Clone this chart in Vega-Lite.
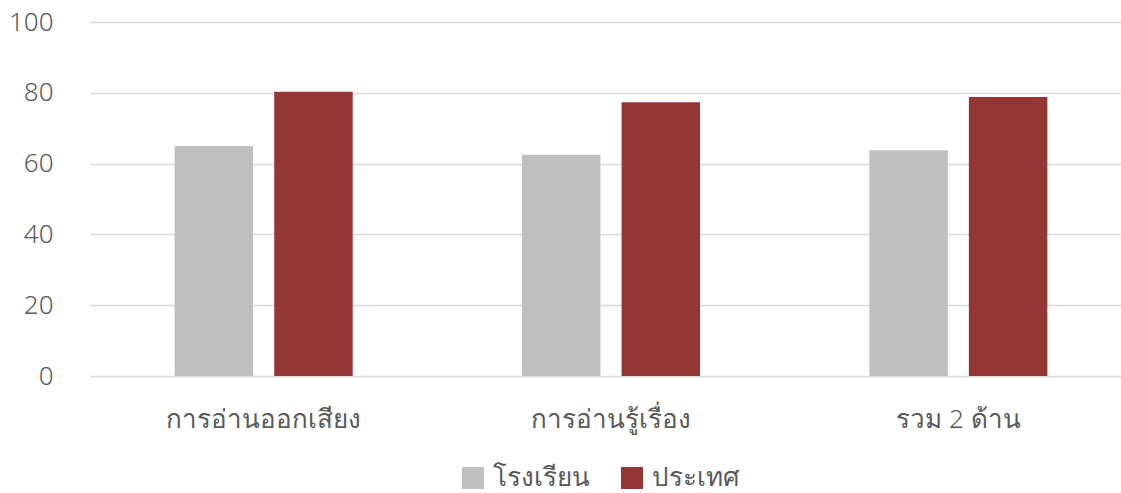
{
  "$schema": "https://vega.github.io/schema/vega-lite/v6.json",
  "autosize": {"type": "none"},
  "width": 1031,
  "height": 354,
  "padding": {"left": 90, "top": 22, "right": 0, "bottom": 117},
  "background": "white",
  "config": {
    "view": {"stroke": null},
    "font": "Noto Sans",
    "axis": {"labelColor": "#595959", "labelFont": "Noto Sans", "labelFontSize": 26, "labelFontWeight": 300, "labelLimit": 400}
  },
  "data": {
    "values": [
      {"category": "การอ่านออกเสียง", "series": "โรงเรียน", "value": 65.0},
      {"category": "การอ่านออกเสียง", "series": "ประเทศ", "value": 80.3},
      {"category": "การอ่านรู้เรื่อง", "series": "โรงเรียน", "value": 62.5},
      {"category": "การอ่านรู้เรื่อง", "series": "ประเทศ", "value": 77.3},
      {"category": "รวม 2 ด้าน", "series": "โรงเรียน", "value": 63.8},
      {"category": "รวม 2 ด้าน", "series": "ประเทศ", "value": 78.8}
    ]
  },
  "mark": {"type": "bar"},
  "encoding": {
    "x": {
      "field": "category",
      "type": "nominal",
      "sort": null,
      "scale": {"paddingInner": 0, "paddingOuter": 0, "range": [0, 1042]},
      "axis": {"title": null, "labelAngle": 0, "domain": false, "ticks": false, "labelPadding": 30, "grid": false, "labelLimit": 400}
    },
    "xOffset": {
      "field": "series",
      "type": "nominal",
      "sort": ["โรงเรียน", "ประเทศ"],
      "scale": {"paddingInner": 0.212, "paddingOuter": 0.85}
    },
    "y": {
      "field": "value",
      "type": "quantitative",
      "scale": {"domain": [0, 100]},
      "axis": {"title": null, "values": [0, 20, 40, 60, 80, 100], "domain": false, "ticks": false, "labelPadding": 37, "gridColor": "#D9D9D9", "gridWidth": 1.5}
    },
    "color": {
      "field": "series",
      "type": "nominal",
      "sort": ["โรงเรียน", "ประเทศ"],
      "scale": {"domain": ["โรงเรียน", "ประเทศ"], "range": ["#BFBFBF", "#943634"]},
      "legend": {
        "title": null,
        "orient": "none",
        "direction": "horizontal",
        "legendX": 370,
        "legendY": 443,
        "symbolType": "square",
        "symbolSize": 484,
        "symbolStrokeWidth": 0,
        "symbolOpacity": 1,
        "labelFontSize": 26,
        "labelFontWeight": 300,
        "labelColor": "#595959",
        "labelOffset": 7,
        "columnPadding": 29,
        "labelFont": "Noto Sans"
      }
    }
  }
}
